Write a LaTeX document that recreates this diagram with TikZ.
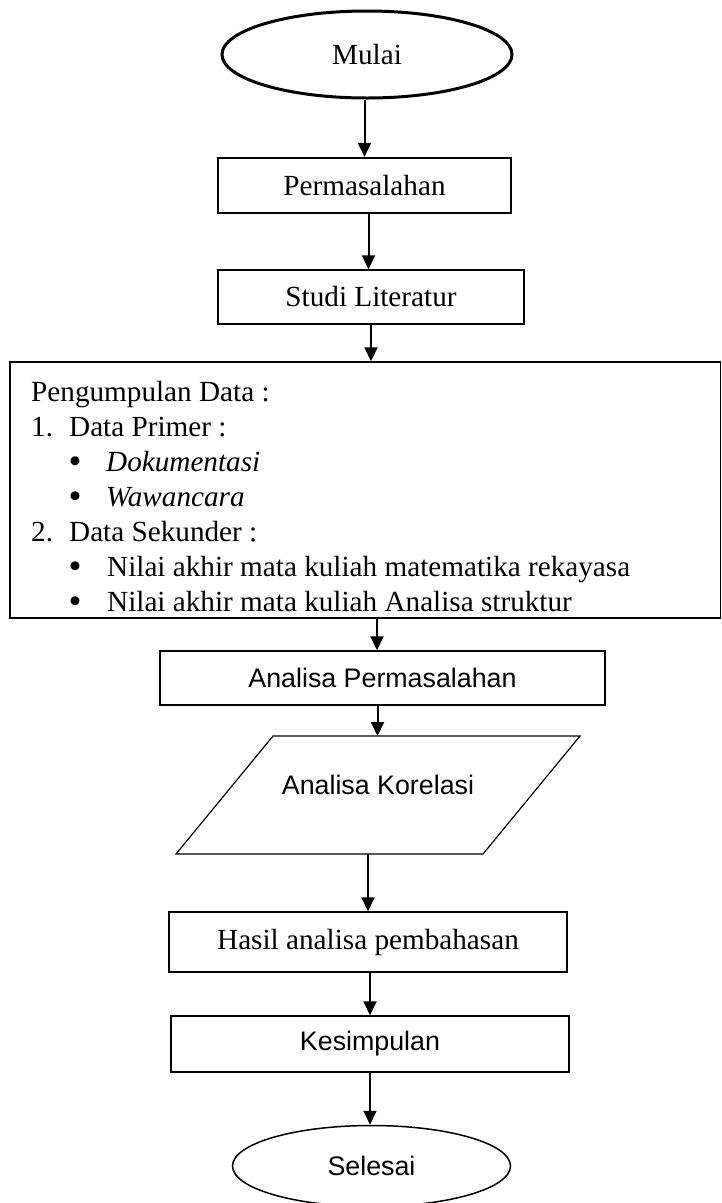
\documentclass[tikz,border=0pt]{standalone}
\usepackage{fontspec}
\setmainfont{Liberation Serif}
\newfontfamily\arialfont{Liberation Sans}
\usepackage{tikz}
\usetikzlibrary{shapes.geometric, arrows.meta, positioning}

\begin{document}
\begin{tikzpicture}[
  x=1pt, y=-1pt,
  serif/.style={font=\fontsize{29.2}{35}\selectfont},
  sans/.style={font=\arialfont\fontsize{26.8}{32}\selectfont},
  block/.style={rectangle, draw, line width=1.5pt, inner sep=0pt, text centered},
  terminal/.style={ellipse, draw, line width=1.5pt, inner sep=0pt},
  listline/.style={anchor=base west, inner sep=0pt, serif},
  bullet/.style={anchor=base, inner sep=0pt, font=\fontsize{37}{37}\selectfont},
  arrow/.style={-{Triangle[width=13pt,length=14pt]}, line width=2pt}
]
\useasboundingbox (0,0) rectangle (722,1203);

% Start and first steps
\node[terminal, serif, line width=3pt, minimum width=290pt, minimum height=87pt] (mulai) at (367,54.5) {Mulai};
\node[block, serif, line width=2.2pt, minimum width=293pt, minimum height=55pt] (perm) at (364.5,185.5) {Permasalahan};
\node[block, serif, minimum width=306pt, minimum height=54pt] (studi) at (371,297) {Studi Literatur};

% Data collection box
\node[block, minimum width=710.5pt, minimum height=256pt] (data) at (365.25,490) {};
\node[listline] (pd) at (31,401) {Pengumpulan Data :};
\node[listline] (n1) at (31,436) {1.};
\node[listline] (primer) at (69,436) {Data Primer :};
\node[bullet] (b1) at (75,473) {•};
\node[listline] (doku) at (106,471) {\textit{Dokumentasi}};
\node[bullet] (b2) at (75,508) {•};
\node[listline] (wawan) at (106,506) {\textit{Wawancara}};
\node[listline] (n2) at (31,541) {2.};
\node[listline] (sekunder) at (69,541) {Data Sekunder :};
\node[bullet] (b3) at (75,578) {•};
\node[listline] (nilai1) at (107,576) {Nilai akhir mata kuliah matematika rekayasa};
\node[bullet] (b4) at (75,613) {•};
\node[listline] (nilai2) at (107,611) {Nilai akhir mata kuliah Analisa struktur};

% Analysis
\node[block, sans, minimum width=445pt, minimum height=54pt] (ap) at (382.5,678) {Analisa Permasalahan};
\coordinate (kor-bl) at (176,854);
\coordinate (kor-tl) at (273,736);
\coordinate (kor-tr) at (580,736);
\coordinate (kor-br) at (483,854);
\draw[line width=1.2pt] (kor-bl) -- (kor-tl) -- (kor-tr) -- (kor-br) -- cycle;
\node[sans, inner sep=0pt] (korelasi) at (378,785) {Analisa Korelasi};

% Result and end
\node[block, serif, minimum width=398pt, minimum height=60pt] (hasil) at (368,942) {Hasil analisa pembahasan};
\node[block, sans, minimum width=398pt, minimum height=56pt] (kesim) at (370,1044) {Kesimpulan};
\node[terminal, sans, minimum width=278pt, minimum height=81pt] (selesai) at (371.5,1166) {Selesai};

% Arrows
\draw[arrow] (perm.north |- mulai.south) -- (perm.north);
\draw[arrow] ([xshift=-2.5pt]studi.north |- perm.south) -- ([xshift=-2.5pt]studi.north);
\draw[arrow] (studi.south) -- (studi.south |- data.north);
\draw[arrow] ([xshift=-5.5pt]ap.north |- data.south) -- ([xshift=-5.5pt]ap.north);
\draw[arrow] ([xshift=-5pt]ap.south) -- ([xshift=-5pt]ap.south |- kor-tl);
\draw[arrow] (hasil.north |- kor-bl) -- (hasil.north);
\draw[arrow] (kesim.north |- hasil.south) -- (kesim.north);
\draw[arrow] (kesim.south) -- (kesim.south |- selesai.north);

\end{tikzpicture}
\end{document}
